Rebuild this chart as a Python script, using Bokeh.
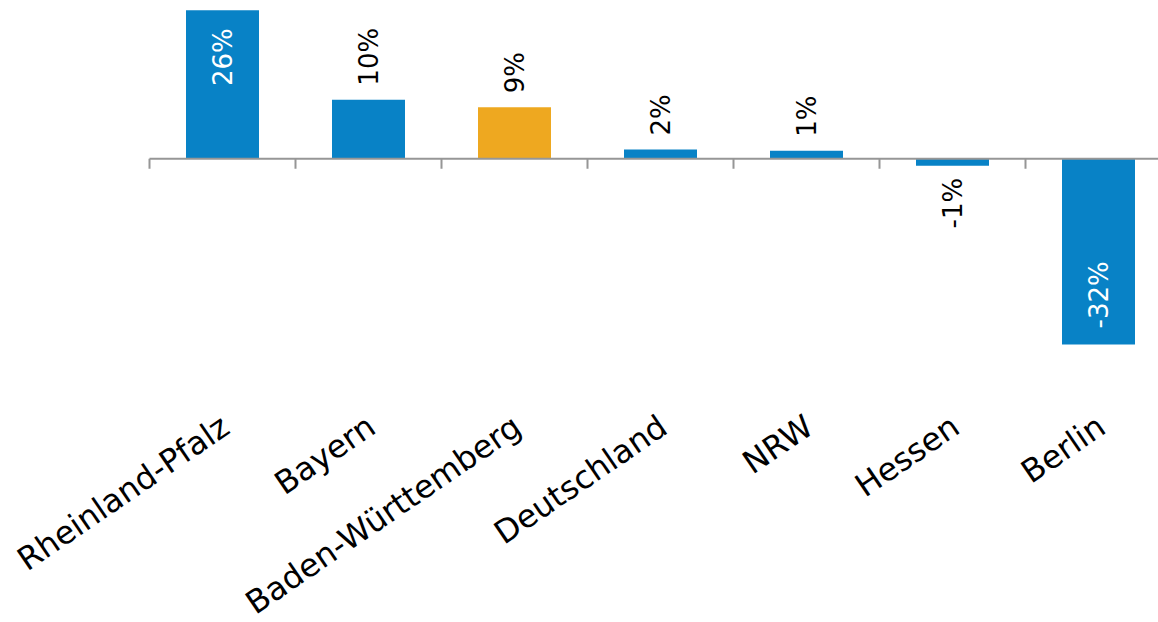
from bokeh.plotting import figure
from bokeh.models import Range1d, ColumnDataSource
from bokeh.core.properties import value
from bokeh.embed import file_html
from bokeh.resources import INLINE
import math

# ---- data ----
regions = ["Rheinland-Pfalz", "Bayern", "Baden-Württemberg", "Deutschland", "NRW", "Hessen", "Berlin"]
changes = [25.6, 10.2, 8.9, 1.6, 1.4, -1.2, -32.0]
change_labels = ["26%", "10%", "9%", "2%", "1%", "-1%", "-32%"]
label_inside = [True, False, False, False, False, False, True]
highlight = "Baden-Württemberg"

# ---- styles ----
BLUE = "#0882C6"
ORANGE = "#EEA820"
GRAY = "#969696"
FONT = "DejaVu Sans"

W, H = 1158, 622
BAND_PX = 146.0      # pixel width of one category band
LEFT_PX = 149.0      # left edge of first band
PX_PER_UNIT = 5.8    # vertical scale
ZERO_PX = 158.3      # zero line from top

xs = list(range(len(regions)))
colors = [ORANGE if r == highlight else BLUE for r in regions]

x_start = -0.5 - LEFT_PX / BAND_PX
x_end = x_start + W / BAND_PX
y_end = ZERO_PX / PX_PER_UNIT
y_start = -(H - ZERO_PX) / PX_PER_UNIT

aligns, offsets, tcolors = [], [], []
for v, inside in zip(changes, label_inside):
    if v >= 0:
        if inside:
            aligns.append("right"); offsets.append(18); tcolors.append("white")
        else:
            aligns.append("left"); offsets.append(-14); tcolors.append("black")
    else:
        if inside:
            aligns.append("left"); offsets.append(-16); tcolors.append("white")
        else:
            aligns.append("right"); offsets.append(12); tcolors.append("black")

src = ColumnDataSource(dict(x=xs, top=changes, color=colors, label=change_labels,
                            align=aligns, yoff=offsets, tcolor=tcolors, region=regions,
                            zero=[0] * len(xs)))

p = figure(width=W, height=H,
           x_range=Range1d(x_start, x_end), y_range=Range1d(y_start, y_end),
           x_axis_location=None, y_axis_location=None,
           output_backend="svg", toolbar_location=None,
           min_border_left=0, min_border_right=0, min_border_top=0, min_border_bottom=0)
p.grid.visible = False
p.outline_line_color = None
p.background_fill_color = "white"
p.border_fill_color = "white"

# bars
p.vbar(x="x", top="top", bottom=0, width=0.5, fill_color="color", line_color=None, source=src)

# zero axis line and tick marks at band edges
edges = [i - 0.5 for i in range(len(regions) + 1)]
p.segment(x0=edges[0], y0=0, x1=edges[-1], y1=0, line_color=GRAY, line_width=2)
p.ray(x=edges, y=[0] * len(edges), length=10, length_units="screen", angle=-math.pi / 2,
      line_color=GRAY, line_width=2)

# value labels
p.text(x="x", y="top", text="label", angle=math.pi / 2, text_align="align",
       text_baseline="middle", y_offset="yoff", text_color="tcolor",
       text_font=value(FONT), text_font_size="26px", source=src)

# category labels (rotated, anchored below the axis)
p.text(x="x", y="zero", text="region", angle=0.6, text_align="right",
       text_baseline="middle", y_offset=264, x_offset=3, text_color="black",
       text_font=value(FONT), text_font_size="32px", source=src)

open("out.html", "w").write(file_html(p, INLINE))
